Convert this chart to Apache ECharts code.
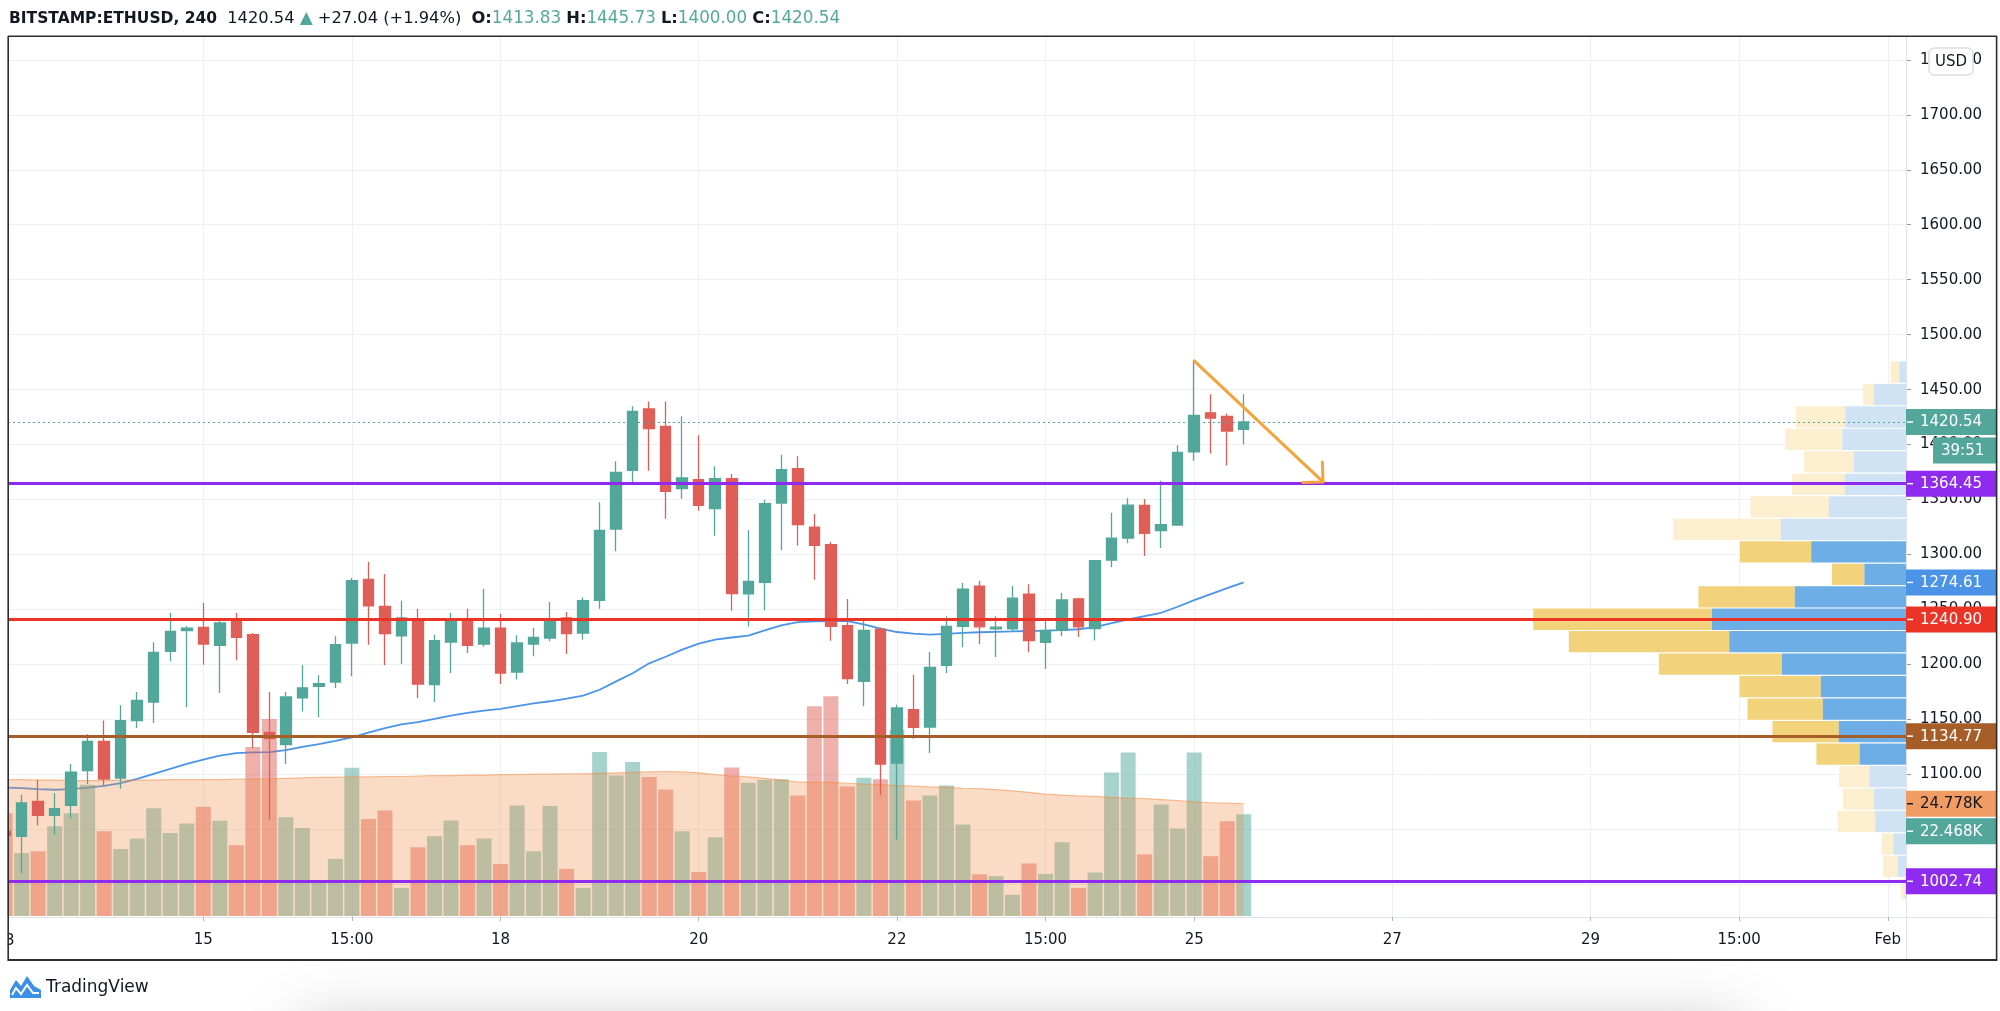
<!DOCTYPE html>
<html>
<head>
<meta charset="utf-8">
<script src="https://cdn.jsdelivr.net/npm/echarts@6/dist/echarts.min.js"></script>
<style>html,body{margin:0;padding:0;background:#fff}#c{width:2000px;height:1011px}</style>
</head>
<body>
<div id="c"></div>
<script>
// ---------------- DATA ----------------
const opens = [1048.2,1043.6,1075.5,1062.7,1071.8,1103.4,1130.0,1096.7,1148.9,1165.8,
 1211.9,1230.7,1233.7,1217.4,1239.8,1227.1,1138.2,1127.0,1169.5,1180.1,
 1184.0,1219.5,1277.4,1252.9,1225.9,1240.7,1181.6,1220.4,1241.6,1218.6,
 1233.1,1193.1,1218.6,1224.0,1242.3,1228.6,1258.3,1323.2,1376.6,1432.4,
 1416.6,1359.9,1368.1,1341.7,1369.0,1264.1,1274.7,1346.8,1378.1,1325.0,
 1308.9,1235.3,1184.6,1232.2,1110.3,1158.9,1143.1,1199.2,1234.6,1271.3,
 1232.3,1232.3,1264.0,1220.0,1230.9,1259.7,1232.6,1295.0,1314.9,1344.6,
 1321.8,1326.8,1393.5,1428.9,1425.6,1413.83];
const highs = [1072.0,1081.5,1095.2,1083.0,1109.4,1136.7,1148.9,1162.8,1174.9,1220.1,
 1246.8,1234.7,1255.9,1242.2,1246.8,1228.6,1174.9,1174.9,1199.2,1190.1,
 1225.6,1278.6,1293.2,1282.3,1258.0,1250.4,1227.1,1246.8,1250.7,1268.9,
 1245.9,1226.5,1233.1,1256.8,1247.7,1261.0,1347.5,1384.8,1434.8,1439.3,
 1439.3,1425.7,1408.4,1380.2,1373.2,1322.0,1349.9,1390.8,1389.3,1336.8,
 1311.4,1259.5,1239.8,1233.7,1163.4,1190.7,1211.3,1243.8,1274.1,1276.2,
 1243.8,1271.3,1272.9,1241.5,1265.3,1260.7,1295.0,1338.0,1351.2,1350.6,
 1367.1,1399.5,1476.1,1445.7,1428.2,1445.73];
const lows = [985.5,1010.3,1053.6,1045.1,1060.3,1091.2,1089.7,1087.0,1142.2,1146.7,
 1202.8,1161.0,1199.8,1174.0,1203.7,1124.0,1058.8,1109.4,1157.3,1151.9,
 1178.6,1189.2,1218.0,1199.2,1200.4,1169.5,1165.8,1192.2,1210.4,1216.0,
 1182.2,1186.2,1207.4,1221.0,1209.5,1222.5,1250.7,1302.9,1366.0,1376.3,
 1332.6,1350.8,1339.9,1317.1,1248.9,1234.6,1249.2,1303.8,1308.3,1277.1,
 1221.6,1182.2,1161.9,1080.9,1040.6,1132.5,1119.4,1192.2,1215.6,1218.4,
 1206.8,1230.0,1211.1,1195.9,1225.6,1225.0,1221.7,1288.4,1310.2,1298.7,
 1305.9,1326.4,1385.3,1391.9,1380.9,1400.00];
const closes = [1044.5,1074.0,1062.7,1068.8,1102.1,1130.0,1095.8,1148.9,1167.3,1211.0,
 1230.1,1233.1,1218.6,1237.7,1224.6,1138.2,1132.5,1170.4,1178.6,1182.5,
 1218.0,1276.2,1253.2,1228.0,1242.3,1182.2,1221.6,1241.6,1217.4,1233.1,
 1192.2,1219.5,1224.6,1240.7,1228.0,1258.0,1322.0,1374.8,1430.2,1414.5,
 1357.5,1369.6,1344.7,1369.0,1264.4,1275.6,1346.2,1377.2,1327.2,1308.3,
 1234.6,1187.1,1231.0,1109.4,1160.4,1142.8,1197.4,1234.6,1268.6,1234.2,
 1233.9,1260.3,1221.7,1230.9,1258.7,1234.2,1294.4,1314.9,1344.9,1319.2,
 1327.1,1392.9,1426.5,1424.2,1412.3,1420.54];
// volume in thousands (K)
const volumes = [22.7,13.9,14.3,19.8,22.7,29.0,18.7,14.8,17.1,23.8,
 18.3,20.4,24.1,21.0,15.6,37.3,43.5,21.8,19.4,7.5,
 12.6,32.7,21.4,23.3,6.2,15.2,17.6,21.1,15.6,17.1,
 11.5,24.4,14.3,24.3,10.4,6.2,36.2,31.0,34.0,30.7,
 27.9,18.7,9.7,17.4,32.8,29.4,30.1,30.2,26.6,46.3,
 48.5,28.6,30.5,30.2,41.1,25.5,26.6,28.8,20.2,9.2,
 8.8,4.7,11.6,9.3,16.3,6.2,9.6,31.7,36.1,13.6,
 24.6,19.3,36.1,13.2,20.9,22.468];
const volMA = [30.1,30.1,30.0,30.0,29.9,29.9,29.9,30.0,30.0,30.0,
 30.1,30.1,30.1,30.1,30.2,30.2,30.3,30.4,30.5,30.6,
 30.6,30.7,30.7,30.8,30.8,30.9,31.0,31.0,31.1,31.1,
 31.2,31.2,31.3,31.3,31.4,31.4,31.5,31.6,31.7,31.8,
 31.9,31.8,31.6,31.2,30.9,30.7,30.4,30.0,29.6,29.5,
 29.5,29.3,29.1,29.0,28.8,28.7,28.5,28.4,28.2,28.1,
 27.9,27.6,27.3,26.9,26.7,26.5,26.4,26.2,26.0,25.9,
 25.7,25.5,25.2,25.0,24.9,24.778];
const priceMA = [1088,1087.5,1086.5,1086,1086.5,1088,1089.5,1092,1096,1100.5,
 1105,1109.5,1113.5,1117,1119.4,1120,1120.3,1122,1125,1127.5,
 1130.5,1133.7,1138,1142,1145.5,1147.5,1150.5,1153.5,1156,1158,
 1159.5,1162,1164.5,1166.5,1169,1171.6,1177,1184.6,1192,1201,
 1207,1213.5,1219,1222.5,1224.5,1226.2,1231,1235.5,1238.5,1239.2,
 1239.5,1239.5,1236.5,1232.5,1229.5,1228,1227.1,1227.8,1228.7,1229.3,
 1229.7,1230,1230.4,1230.7,1231.2,1232,1234,1237.5,1241,1244,
 1247,1252.5,1258.5,1264,1269.5,1274.61];
// time axis labels (bar index -> text)
const xTickIdx  = [0, 12, 21, 30, 42, 54, 63, 72, 84, 96, 105, 114];
const xTickText = ['13','15','15:00','18','20','22','15:00','25','27','29','15:00','Feb'];
// price axis labels
const yTicks = [1000,1050,1100,1150,1200,1250,1300,1350,1400,1450,1500,1550,1600,1650,1700,1750];
// horizontal levels drawn on the chart
const levels = [1364.45, 1240.90, 1134.77, 1002.74];
// volume profile rows, top -> bottom (K)
const vpUp   = [1.7,8.0,15.2,15.9,13.1,15.3,19.3,31.3,23.7,10.4,27.8,48.5,44.2,31.0,21.3,20.8,16.8,11.6,9.2,8.0,7.7,3.2,2.1,0.3];
const vpDown = [2.2,2.7,12.3,14.3,12.4,13.2,19.6,26.9,17.8,8.1,24.1,44.7,40.1,30.8,20.3,18.8,16.6,10.8,7.5,7.8,9.4,2.9,3.6,1.0];
const vpValueArea = [8, 17];
// trend arrow drawing: [barIndex, price] start -> end
const trendArrow = [[72, 1476.1, 79.8, 1366.0]];
const headerSymbol = 'BITSTAMP:ETHUSD, 240';
const headerChange = '+27.04 (+1.94%)';
const countdown = '39:51';
const currency = 'USD';

// ---------------- STYLE / LAYOUT ----------------
const FONT = '"DejaVu Sans", sans-serif';
const UP = '#52a69a', DOWN = '#df5f58';
const UP_VOL = 'rgba(82,166,154,0.5)', DOWN_VOL = 'rgba(223,95,88,0.5)';
const MA_BLUE = '#4a94ea';
const levelColors = ['#8f2bee', '#ec3426', '#a65d27', '#8f2bee'];
const ORANGE = '#f5a33c';
const VP_UP_D = '#6eaee6', VP_DN_D = '#f2d37c', VP_UP_L = '#cfe3f5', VP_DN_L = '#fcefcf';
const TXT = '#131722';
const PLOT_L = 8, PLOT_R = 1906, PLOT_T = 37, PLOT_B = 917;
const BAR_PX = 16.515, BAR0_X = 5.1;
const X_MIN = (PLOT_L - BAR0_X) / BAR_PX, X_MAX = (PLOT_R - BAR0_X) / BAR_PX;
const PX_PER_USD = 1.0993, REF_P = 1420.54, REF_Y = 422;
const Y_MAX = REF_P + (REF_Y - PLOT_T) / PX_PER_USD;
const Y_MIN = REF_P - (PLOT_B - REF_Y) / PX_PER_USD;
const VOL_PX = 4.53, VOL_MIN = -1 / VOL_PX, VOL_MAX = VOL_MIN + (PLOT_B - PLOT_T) / VOL_PX;
const VP_MAX = (PLOT_R - PLOT_L) * 0.25;

const N = opens.length;
const candleData = opens.map((o, i) => [i, o, closes[i], lows[i], highs[i]]);
const volData = volumes.map((v, i) => ({ value: [i, v], itemStyle: { color: closes[i] >= opens[i] ? UP_VOL : DOWN_VOL } }));
const vpHi = Math.max(...highs), vpLo = Math.min(...lows), vpStep = (vpHi - vpLo) / vpUp.length;

const chart = echarts.init(document.getElementById('c'), null, { renderer: 'canvas', width: 2000, height: 1011 });

const option = {
  animation: false,
  backgroundColor: '#ffffff',
  textStyle: { fontFamily: FONT },
  grid: { left: PLOT_L, top: PLOT_T, width: PLOT_R - PLOT_L, height: PLOT_B - PLOT_T, containLabel: false, outerBoundsMode: 'none' },
  xAxis: [
    { type: 'value', gridIndex: 0, min: X_MIN, max: X_MAX, position: 'bottom',
      axisLine: { show: true, onZero: false, lineStyle: { color: '#e0e3eb', width: 1 } },
      axisTick: { show: true, customValues: xTickIdx, length: 4, lineStyle: { color: '#b2b5be' } },
      axisLabel: { show: true, customValues: xTickIdx, color: TXT, fontSize: 15, fontFamily: FONT, margin: 16,
        formatter: v => { const k = xTickIdx.indexOf(Math.round(v)); return k >= 0 ? xTickText[k] : ''; } },
      splitLine: { show: true, lineStyle: { color: '#eef0f3', width: 1 } } },
    { type: 'value', gridIndex: 0, inverse: true, min: 0, max: VP_MAX, show: false, splitLine: { show: false } }
  ],
  yAxis: [
    { type: 'value', gridIndex: 0, position: 'right', min: Y_MIN, max: Y_MAX,
      axisLine: { show: false, onZero: false },
      axisTick: { show: true, customValues: yTicks, length: 5, lineStyle: { color: '#9598a1' } },
      axisLabel: { show: true, customValues: yTicks, color: TXT, fontSize: 15, fontFamily: FONT, margin: 14,
        formatter: v => v.toFixed(2) },
      splitLine: { show: true, lineStyle: { color: '#eef0f3', width: 1 } } },
    { type: 'value', gridIndex: 0, min: VOL_MIN, max: VOL_MAX, show: false, splitLine: { show: false } }
  ],
  series: [
    { type: 'line', name: 'MA', xAxisIndex: 0, yAxisIndex: 0, data: priceMA.map((v, i) => [i, v]),
      symbol: 'none', showSymbol: false, silent: true, clip: true, z: 2,
      lineStyle: { color: MA_BLUE, width: 1.8 } },
    { type: 'bar', name: 'Volume', xAxisIndex: 0, yAxisIndex: 1, data: volData, barWidth: 15,
      silent: true, clip: true, z: 3 },
    { type: 'line', name: 'VolMA', xAxisIndex: 0, yAxisIndex: 1, data: volMA.map((v, i) => [i, v]),
      symbol: 'none', showSymbol: false, silent: true, clip: true, z: 4,
      lineStyle: { color: 'rgba(240,140,70,0.55)', width: 1.2 },
      areaStyle: { color: 'rgba(240,140,70,0.44)' } },
    { type: 'custom', name: 'VPVR', xAxisIndex: 1, yAxisIndex: 0, silent: true, z: 5,
      data: vpUp.map((u, k) => [u, vpDown[k], k]),
      renderItem: (params, api) => {
        const u = api.value(0), d = api.value(1), k = api.value(2);
        const hi = vpHi - k * vpStep, lo = hi - vpStep;
        const pr = api.coord([0, hi]);
        const pu = api.coord([u, lo]);
        const pt = api.coord([u + d, lo]);
        const y0 = pr[1] + 0.5, h = pu[1] - pr[1] - 1.2;
        const va = k >= vpValueArea[0] && k <= vpValueArea[1];
        return { type: 'group', children: [
          { type: 'rect', shape: { x: pt[0], y: y0, width: pu[0] - pt[0], height: h }, style: { fill: va ? VP_DN_D : VP_DN_L } },
          { type: 'rect', shape: { x: pu[0], y: y0, width: pr[0] - pu[0], height: h }, style: { fill: va ? VP_UP_D : VP_UP_L } }
        ] };
      } },
    { type: 'candlestick', name: 'ETHUSD', xAxisIndex: 0, yAxisIndex: 0, data: candleData,
      encode: { x: 0, y: [1, 2, 3, 4] }, barWidth: 11, silent: true, clip: true, z: 6,
      itemStyle: { color: UP, color0: DOWN, borderColor: UP, borderColor0: DOWN, borderWidth: 1.3 },
      markLine: { silent: true, symbol: ['none', 'none'], z: 10, animation: false, label: { show: false },
        data: [{ yAxis: closes[N - 1], lineStyle: { color: UP, type: [2, 3], width: 1 } }]
          .concat(levels.map((v, k) => ({ yAxis: v, lineStyle: { color: levelColors[k], width: 3, type: 'solid' } }))) } },
    { type: 'custom', name: 'arrow', xAxisIndex: 0, yAxisIndex: 0, silent: true, z: 11, data: trendArrow,
      renderItem: (params, api) => {
        const a = api.coord([api.value(0), api.value(1)]);
        const b = api.coord([api.value(2), api.value(3)]);
        const ang = Math.atan2(b[1] - a[1], b[0] - a[0]);
        const L = 20;
        const h1 = [b[0] - L * Math.cos(ang - Math.PI / 4), b[1] - L * Math.sin(ang - Math.PI / 4)];
        const h2 = [b[0] - L * Math.cos(ang + Math.PI / 4), b[1] - L * Math.sin(ang + Math.PI / 4)];
        return { type: 'group', children: [
          { type: 'line', shape: { x1: a[0], y1: a[1], x2: b[0], y2: b[1] }, style: { stroke: ORANGE, lineWidth: 3, lineCap: 'round' } },
          { type: 'polyline', shape: { points: [h1, b, h2] }, style: { stroke: ORANGE, lineWidth: 3, fill: null, lineCap: 'round', lineJoin: 'round' } }
        ] };
      } }
  ]
};
chart.setOption(option);

// ---------------- OVERLAYS (tags, frame, header) ----------------
const yp = v => chart.convertToPixel({ yAxisIndex: 0 }, v);
const vp = v => chart.convertToPixel({ yAxisIndex: 1 }, v);
const xp = v => chart.convertToPixel({ xAxisIndex: 0 }, v);
const g = [];
function line(x1, y1, x2, y2, c, w, z) { g.push({ type: 'line', silent: true, z: z || 100, shape: { x1, y1, x2, y2 }, style: { stroke: c, lineWidth: w } }); }
function txt(x, y, t, c, size, align, z, weight) {
  g.push({ type: 'text', silent: true, z: z || 102, x, y, style: { text: t, fill: c, fontSize: size, fontFamily: FONT, fontWeight: weight || 'normal', align: align || 'left', verticalAlign: 'middle' } });
}
function tag(yc, label, bg, fg, x0, tx, tick) {
  g.push({ type: 'rect', silent: true, z: 101, shape: { x: x0, y: yc - 13, width: 1996 - x0, height: 26 }, style: { fill: bg } });
  if (tick) line(1907, yc, 1913, yc, fg, 1.5, 102);
  txt(tx, yc + 0.5, label, fg, 15, 'left', 102);
}

// bottom shadow of an overlapping card
g.push({ type: 'rect', silent: true, z: 1, shape: { x: 300, y: 1032, width: 1440, height: 200 }, style: { fill: '#ffffff', shadowBlur: 70, shadowColor: 'rgba(0,0,0,0.30)' } });

// mask anything left of the pane border
g.push({ type: 'rect', silent: true, z: 99, shape: { x: 0, y: 30, width: 7.5, height: 890 }, style: { fill: '#ffffff' } });

// tags
const pY = yp(closes[N - 1]);
tag(pY, closes[N - 1].toFixed(2), UP, '#ffffff', 1906, 1920, true);
tag(pY + 28.5, countdown, UP, '#ffffff', 1933, 1941, false);
tag(yp(levels[0]), levels[0].toFixed(2), levelColors[0], '#ffffff', 1906, 1920, true);
tag(yp(priceMA[N - 1]), priceMA[N - 1].toFixed(2), '#4a93e6', '#ffffff', 1906, 1920, true);
tag(yp(levels[1]), levels[1].toFixed(2), levelColors[1], '#ffffff', 1906, 1920, true);
tag(yp(levels[2]), levels[2].toFixed(2), levelColors[2], '#ffffff', 1906, 1920, true);
const vmY = vp(volMA[N - 1]);
tag(vmY, volMA[N - 1].toFixed(3) + 'K', '#f09c63', '#131722', 1906, 1920, true);
const vY = Math.max(vp(volumes[N - 1]), vmY + 27.5);
tag(vY, volumes[N - 1].toFixed(3) + 'K', UP, '#ffffff', 1906, 1920, true);
tag(yp(levels[3]), levels[3].toFixed(2), levelColors[3], '#ffffff', 1906, 1920, true);

// currency button
g.push({ type: 'rect', silent: true, z: 103, shape: { x: 1929, y: 48, width: 44, height: 27, r: 5 }, style: { fill: '#ffffff', stroke: '#c9ccd3', lineWidth: 1 } });
txt(1951, 62, currency, TXT, 15, 'center', 104);

// first (cut) time label
txt(xp(xTickIdx[0]), 941, xTickText[0], TXT, 15, 'center', 102);
g.push({ type: 'rect', silent: true, z: 103, shape: { x: 0, y: 918, width: 7.5, height: 40 }, style: { fill: '#ffffff' } });

// separators and frame
line(1906.5, PLOT_T, 1906.5, 959, '#e0e3eb', 1, 100);
line(1906, 917.5, 1996, 917.5, '#e0e3eb', 1, 100);
line(8, 36.2, 1997, 36.2, '#2e2e2e', 1.6, 105);
line(8.2, 36, 8.2, 961, '#2e2e2e', 1.6, 105);
line(1996.6, 36, 1996.6, 961, '#2e2e2e', 1.6, 105);
line(8, 960, 1997, 960, '#2e2e2e', 2, 105);

// header
g.push({ type: 'text', silent: true, z: 106, x: 9, y: 19, style: {
  text: '{s|' + headerSymbol + '}  {k|' + closes[N - 1].toFixed(2) + '} {g|▲} {k|' + headerChange + '}  {b|O:}{v|' + opens[N - 1].toFixed(2) +
        '} {b|H:}{v|' + highs[N - 1].toFixed(2) + '} {b|L:}{v|' + lows[N - 1].toFixed(2) + '} {b|C:}{v|' + closes[N - 1].toFixed(2) + '}',
  fontSize: 16, fontFamily: FONT, fill: TXT, verticalAlign: 'middle', align: 'left',
  rich: {
    s: { fontSize: 15.5, fontWeight: 'bold', fontFamily: FONT, fill: TXT },
    k: { fontSize: 16.3, fontFamily: FONT, fill: TXT },
    g: { fontSize: 17, fontFamily: FONT, fill: UP },
    b: { fontSize: 16.3, fontWeight: 'bold', fontFamily: FONT, fill: TXT },
    v: { fontSize: 16.8, fontFamily: FONT, fill: '#53a99c' }
  } } });

// TradingView logo
g.push({ type: 'polygon', silent: true, z: 106, shape: { points: [[10, 998], [10, 990], [16, 980], [21, 986], [27, 976], [34, 986], [41, 990], [41, 998]] }, style: { fill: '#3a8fe6' } });
g.push({ type: 'polyline', silent: true, z: 107, shape: { points: [[12, 995], [16, 988], [21, 994], [27, 985], [33, 993], [39, 993]] }, style: { stroke: '#ffffff', lineWidth: 2, fill: null } });
txt(46, 988, 'TradingView', TXT, 17, 'left', 106);

chart.setOption({ graphic: { elements: g } });
</script>
</body>
</html>
